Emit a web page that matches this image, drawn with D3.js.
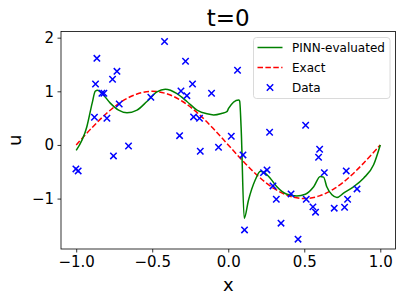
<!DOCTYPE html>
<html>
<head>
<meta charset="utf-8">
<script src="https://cdn.jsdelivr.net/npm/d3@7"></script>
<style>
  body { margin: 0; background: #fff; }
  svg text { font-family: "DejaVu Sans", sans-serif; fill: #000; }
</style>
</head>
<body>
<div id="wrapper"></div>
<script>
// PINN output at t=0
const pinnX = [-1.0, -0.93, -0.895, -0.875, -0.86, -0.83, -0.776, -0.721, -0.666, -0.6, -0.535, -0.469,
    -0.414, -0.38, -0.34, -0.272, -0.206, -0.14, -0.096, -0.041, -0.009, 0.002, 0.068, 0.075, 0.085,
    0.105, 0.133, 0.178, 0.211, 0.244, 0.276, 0.32, 0.386, 0.451, 0.507, 0.562, 0.605, 0.627, 0.648,
    0.682, 0.715, 0.758, 0.824, 0.89, 0.956, 1.0];
const pinnU = [-0.1, 0.34, 0.78, 1.0, 1.02, 0.96, 0.78, 0.65, 0.6, 0.65, 0.81, 0.99,
    1.04, 1.02, 0.96, 0.81, 0.65, 0.58, 0.56, 0.59, 0.62, 0.68, 0.84, 0.82, 0.3,
    -1.37, -1.03, -0.65, -0.49, -0.53, -0.62, -0.78, -0.92, -0.95, -0.92, -0.78, -0.59, -0.6, -0.78,
    -0.93, -0.98, -0.9, -0.78, -0.62, -0.37, 0.0];

// exact solution
const exactX = [-1.0, -0.9, -0.8, -0.7, -0.6, -0.5, -0.4, -0.3, -0.2, -0.1, 0.0,
    0.1, 0.2, 0.3, 0.4, 0.5, 0.6, 0.7, 0.8, 0.9, 1.0];
const exactU = [0.0, 0.31, 0.59, 0.81, 0.95, 1.0, 0.95, 0.81, 0.59, 0.31, 0.0,
    -0.31, -0.59, -0.81, -0.95, -1.0, -0.95, -0.81, -0.59, -0.31, 0.0];

// noisy data points
const dataX = [-1.002, -0.987, -0.755, -0.656, -0.419, -0.864, -0.732, -0.761, -0.873, -0.831, -0.818,
    -0.509, -0.717, -0.88, -0.798, -0.281, 0.061, -0.235, -0.11, -0.311, -0.272, -0.228, -0.189,
    -0.32, 0.02, -0.064, -0.184, 0.097, 0.232, 0.255, 0.107, 0.272, 0.509, 0.601, 0.594, 0.632,
    0.776, 0.294, 0.847, 0.413, 0.316, 0.513, 0.785, 0.557, 0.574, 0.697, 0.765, 0.347, 0.459];
const dataU = [-0.447, -0.484, -0.205, -0.019, 1.928, 1.615, 1.373, 1.224, 1.137, 0.963, 0.963,
    0.889, 0.764, 0.516, 0.497, 1.56, 1.392, 1.137, 0.963, 1.006, 0.919, 0.522, 0.497,
    0.173, 0.162, -0.043, -0.117, -0.186, -0.516, -0.466, -1.584, 0.237, 0.367, -0.08, -0.229, -0.516,
    -0.484, -0.764, -0.82, -0.913, -1.012, -1.012, -1.012, -1.155, -1.254, -1.179, -1.161, -1.459, -1.757];

const xTicks = [-1.0, -0.5, 0.0, 0.5, 1.0];
const yTicks = [-1, 0, 1, 2];
const legendNames = ["PINN-evaluated", "Exact", "Data"];

const width = 402, height = 301;
const margin = {top: 31.5, right: 6.5, bottom: 52, left: 61};

const svg = d3.select("#wrapper").append("svg")
    .attr("width", width)
    .attr("height", height);

const x = d3.scaleLinear().domain([-1.1, 1.1]).range([margin.left, width - margin.right]);
const y = d3.scaleLinear().domain([-1.94, 2.115]).range([height - margin.bottom, margin.top]);

const plot = svg.append("g");

const line = d3.line().x(d => x(d[0])).y(d => y(d[1]));

// exact
plot.append("path")
    .datum(exactX.map((v, i) => [v, exactU[i]]))
    .attr("d", line.curve(d3.curveCatmullRom))
    .attr("fill", "none")
    .attr("stroke", "#ff0000")
    .attr("stroke-width", 1.5)
    .attr("stroke-dasharray", "5.5,2.4");

// pinn
plot.append("path")
    .datum(pinnX.map((v, i) => [v, pinnU[i]]))
    .attr("d", line.curve(d3.curveMonotoneX))
    .attr("fill", "none")
    .attr("stroke", "#008000")
    .attr("stroke-width", 1.5);

// data crosses
const s = 3.2;
function cross(px, py) {
    return `M${px - s},${py - s}L${px + s},${py + s}M${px - s},${py + s}L${px + s},${py - s}`;
}
plot.selectAll(".pt")
    .data(dataX.map((v, i) => [v, dataU[i]]))
    .enter()
    .append("path")
    .attr("class", "pt")
    .attr("d", d => cross(x(d[0]), y(d[1])))
    .attr("stroke", "#0000ff")
    .attr("stroke-width", 1.5);

// axes
const xAxis = svg.append("g")
    .attr("transform", `translate(0,${height - margin.bottom})`)
    .call(d3.axisBottom(x).tickValues(xTicks).tickSize(3.5).tickPadding(3.5)
        .tickFormat(d => d3.format(".1f")(d).replace("-", "\u2212")));
const yAxis = svg.append("g")
    .attr("transform", `translate(${margin.left},0)`)
    .call(d3.axisLeft(y).tickValues(yTicks).tickSize(3.5).tickPadding(3.5)
        .tickFormat(d => String(d).replace("-", "\u2212")));
[xAxis, yAxis].forEach(a => {
    a.select(".domain").remove();
    a.selectAll(".tick line").attr("stroke", "#000").attr("stroke-width", 0.8);
    a.selectAll(".tick text").style("font-size", "15px");
});

// frame
svg.append("rect")
    .attr("x", margin.left)
    .attr("y", margin.top)
    .attr("width", width - margin.left - margin.right)
    .attr("height", height - margin.top - margin.bottom)
    .attr("fill", "none")
    .attr("stroke", "#000")
    .attr("stroke-width", 0.8);

// labels
svg.append("text")
    .attr("x", (x.range()[0] + x.range()[1]) / 2)
    .attr("y", 26)
    .attr("text-anchor", "middle")
    .style("font-size", "23px")
    .text("t=0");
svg.append("text")
    .attr("x", (x.range()[0] + x.range()[1]) / 2)
    .attr("y", 291)
    .attr("text-anchor", "middle")
    .style("font-size", "18px")
    .text("x");
svg.append("text")
    .attr("transform", `translate(21,${(y.range()[0] + y.range()[1]) / 2}) rotate(-90)`)
    .attr("text-anchor", "middle")
    .style("font-size", "18px")
    .text("u");

// legend
const legend = svg.append("g").attr("transform", "translate(253.5,37.5)");
legend.append("rect")
    .attr("width", 136.5)
    .attr("height", 61)
    .attr("rx", 3)
    .attr("fill", "#fff")
    .attr("fill-opacity", 0.8)
    .attr("stroke", "#d0d0d0")
    .attr("stroke-width", 0.8);
legendNames.forEach((name, i) => {
    const ly = 10 + i * 20;
    const item = legend.append("g");
    if (i === 0) {
        item.append("line").attr("x1", 4).attr("x2", 29).attr("y1", ly).attr("y2", ly)
            .attr("stroke", "#008000").attr("stroke-width", 1.5);
    } else if (i === 1) {
        item.append("line").attr("x1", 4).attr("x2", 29).attr("y1", ly).attr("y2", ly)
            .attr("stroke", "#ff0000").attr("stroke-width", 1.5).attr("stroke-dasharray", "5.5,2.4");
    } else {
        item.append("path").attr("d", cross(16.5, ly))
            .attr("stroke", "#0000ff").attr("stroke-width", 1.5);
    }
    item.append("text")
        .attr("x", 38.5)
        .attr("y", ly + 4.5)
        .style("font-size", "12px")
        .text(name);
});
</script>
</body>
</html>
